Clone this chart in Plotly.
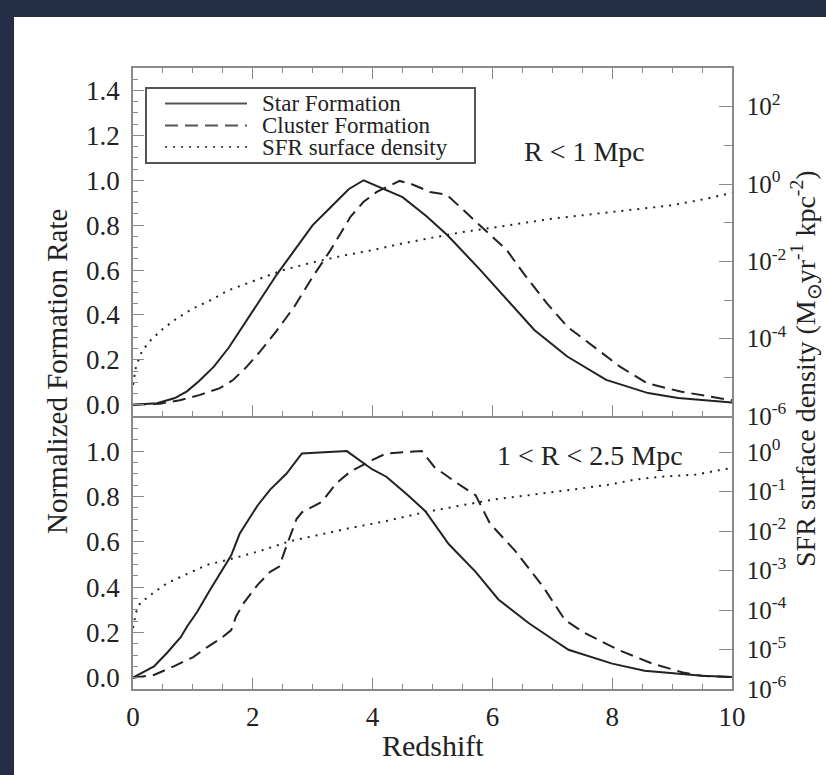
import plotly.graph_objects as go

# ---- data: R < 1 Mpc (upper panel) ----
z_top_sf = [0, 0.4, 0.7, 0.9, 1.1, 1.35, 1.6, 1.9, 2.1, 2.4, 2.7, 3.0, 3.3, 3.6, 3.85,
            4.1, 4.5, 4.9, 5.25, 5.8, 6.25, 6.7, 7.25, 7.9, 8.6, 9.1, 10.0]
sf_top = [0.0, 0.007, 0.03, 0.06, 0.105, 0.17, 0.255, 0.375, 0.46, 0.58, 0.69, 0.80, 0.88, 0.96, 1.0,
          0.97, 0.925, 0.84, 0.755, 0.60, 0.467, 0.333, 0.215, 0.111, 0.052, 0.03, 0.01]

z_top_cf = [0, 0.45, 0.78, 1.12, 1.45, 1.67, 1.9, 2.12, 2.4, 2.7, 3.0, 3.3, 3.63, 3.85, 4.07,
            4.45, 4.63, 4.96, 5.24, 5.52, 5.85, 6.24, 6.52, 6.91, 7.25, 7.69, 8.13, 8.58, 9.14, 10.0]
cf_top = [0.0, 0.005, 0.02, 0.044, 0.074, 0.11, 0.17, 0.237, 0.33, 0.44, 0.57, 0.69, 0.837, 0.904, 0.948,
          0.997, 0.985, 0.948, 0.935, 0.867, 0.785, 0.689, 0.585, 0.452, 0.348, 0.259, 0.17, 0.096, 0.059, 0.02]

z_top_sd = [0, 0.05, 0.15, 0.3, 0.5, 0.75, 1.0, 1.3, 1.6, 2.0, 2.5, 3.0, 3.5, 4.0, 4.5,
            5.0, 5.5, 6.0, 6.5, 7.0, 7.5, 8.0, 8.5, 9.0, 9.5, 10.0]
sd_top = [6.4e-6, 1.9e-5, 4.8e-5, 9.3e-5, 1.8e-4, 3.5e-4, 6.0e-4, 1.0e-3, 1.8e-3, 3.0e-3, 5.9e-3,
          9.4e-3, 1.4e-2, 1.95e-2, 2.9e-2, 4.1e-2, 5.7e-2, 7.4e-2, 9.7e-2, 0.127, 0.155, 0.189,
          0.231, 0.282, 0.395, 0.59]

# ---- data: 1 < R < 2.5 Mpc (lower panel) ----
z_bot_sf = [0, 0.35, 0.57, 0.8, 0.9, 1.07, 1.27, 1.5, 1.64, 1.78, 2.08, 2.29, 2.56, 2.82, 3.57,
            3.99, 4.23, 4.59, 4.88, 5.27, 5.72, 6.1, 6.61, 7.03, 7.27, 8.0, 8.54, 9.5, 10.0]
sf_bot = [0.0, 0.05, 0.11, 0.18, 0.225, 0.29, 0.38, 0.48, 0.54, 0.635, 0.76, 0.83, 0.90, 0.99, 1.0,
          0.92, 0.887, 0.805, 0.735, 0.59, 0.467, 0.345, 0.24, 0.165, 0.123, 0.062, 0.031, 0.008, 0.003]

z_bot_cf = [0, 0.35, 0.68, 1.0, 1.24, 1.45, 1.64, 1.72, 1.85, 2.08, 2.29, 2.44, 2.56, 2.73, 2.82,
            3.15, 3.39, 3.63, 3.99, 4.23, 4.82, 5.03, 5.42, 5.72, 5.96, 6.38, 6.85, 7.21, 7.52,
            8.1, 8.67, 9.18, 9.5, 10.0]
cf_bot = [0.0, 0.012, 0.05, 0.09, 0.135, 0.17, 0.21, 0.27, 0.33, 0.41, 0.467, 0.49, 0.58, 0.70, 0.73,
          0.776, 0.857, 0.91, 0.96, 0.99, 1.0, 0.93, 0.857, 0.805, 0.68, 0.56, 0.40, 0.255, 0.20,
          0.123, 0.062, 0.023, 0.008, 0.003]

z_bot_sd = [0, 0.05, 0.12, 0.35, 0.57, 0.9, 1.24, 1.6, 2.14, 2.61, 3.15, 3.63, 4.23, 4.82, 5.42,
            6.02, 6.61, 7.21, 7.93, 8.4, 8.76, 9.4, 10.0]
sd_bot = [3.5e-5, 8.7e-5, 1.5e-4, 2.8e-4, 4.8e-4, 8.1e-4, 1.4e-3, 1.9e-3, 3.2e-3, 5.5e-3, 8.3e-3,
          1.2e-2, 1.8e-2, 2.9e-2, 4.3e-2, 6.3e-2, 8.1e-2, 0.107, 0.148, 0.204, 0.234, 0.27, 0.40]

series_names = ["Star Formation", "Cluster Formation", "SFR surface density"]
panel_labels = ["R &lt; 1 Mpc", "1 &lt; R &lt; 2.5 Mpc"]
left_ticks_top = [0.0, 0.2, 0.4, 0.6, 0.8, 1.0, 1.2, 1.4]
left_ticks_bot = [0.0, 0.2, 0.4, 0.6, 0.8, 1.0]
right_major_top = [-6, -4, -2, 0, 2]
right_minor_top = [-5, -3, -1, 1, 3]
right_major_bot = [-6, -5, -4, -3, -2, -1, 0]

# ---- figure geometry (pixels) ----
W, H = 826, 775
L, R, T, B = 133, 94, 68, 86
PW, PH = W - L - R, H - T - B
SPLIT = (689 - 416) / PH  # lower panel fraction


def px(xpix):
    return (xpix - L) / PW


def py(ypix):
    return (H - B - ypix) / PH


INK = "#222222"
AX = "#8a8a8a"
BACKDROP = "#232d45"
FONT = "Liberation Serif, Times New Roman, serif"
DASH = "13px,7px"
DOT = "2px,6px"

fig = go.Figure()


def add_panel(xa, ya_left, ya_right, zs, sf, zc, cf, zd, sd):
    fig.add_trace(go.Scatter(x=zs, y=sf, mode="lines", name=series_names[0], xaxis=xa, yaxis=ya_left,
                             line=dict(color=INK, width=2), showlegend=False))
    fig.add_trace(go.Scatter(x=zc, y=cf, mode="lines", name=series_names[1], xaxis=xa, yaxis=ya_left,
                             line=dict(color=INK, width=2, dash=DASH), showlegend=False))
    fig.add_trace(go.Scatter(x=zd, y=sd, mode="lines", name=series_names[2], xaxis=xa, yaxis=ya_right,
                             line=dict(color=INK, width=2, dash=DOT), showlegend=False))


add_panel("x", "y", "y2", z_bot_sf, sf_bot, z_bot_cf, cf_bot, z_bot_sd, sd_bot)
add_panel("x2", "y3", "y4", z_top_sf, sf_top, z_top_cf, cf_top, z_top_sd, sd_top)

tickfont = dict(family=FONT, size=27, color=INK)
rtickfont = dict(family=FONT, size=25, color=INK)

minor_x = dict(dtick=0.5, tick0=0, ticks="inside", ticklen=5, tickcolor=AX, tickwidth=1.2,
               showgrid=False)
common_x = dict(range=[0, 10], linecolor=AX, linewidth=1.5, ticks="inside",
                tickcolor=AX, tickwidth=1.2, ticklen=11, tickmode="array",
                tickvals=[0, 2, 4, 6, 8, 10], showgrid=False, zeroline=False, minor=minor_x)

common_left = dict(showline=True, linecolor=AX, linewidth=1.5, ticks="inside", tickcolor=AX,
                   tickwidth=1.2, ticklen=11, showgrid=False, zeroline=False, tickfont=tickfont,
                   tickformat=".1f", tickmode="array", ticklabelstandoff=6,
                   minor=dict(dtick=0.05, tick0=0, ticks="inside", ticklen=5, tickcolor=AX,
                              tickwidth=1.2, showgrid=False))

common_right = dict(type="log", side="right", showline=True, linecolor=AX, linewidth=1.5,
                    ticks="inside", tickcolor=AX, tickwidth=1.2, ticklen=13, showgrid=False,
                    zeroline=False, tickfont=rtickfont, tickmode="array", ticklabelstandoff=8)


def decade_labels(exps):
    return ["10<sup>%d</sup>" % e for e in exps]


fig.update_layout(
    width=W, height=H,
    margin=dict(l=L, r=R, t=T, b=B, pad=0),
    paper_bgcolor="white",
    plot_bgcolor="white",
    font=dict(family=FONT, color=INK),
    xaxis=dict(**common_x, anchor="y", showline=True, mirror=False, tickfont=tickfont,
               ticklabelstandoff=3),
    xaxis2=dict(**common_x, anchor="y3", matches="x", showline=True, mirror="ticks",
                showticklabels=False),
    yaxis=dict(**common_left, domain=[0, SPLIT], range=[-0.05, 1.155], anchor="x",
               tickvals=left_ticks_bot),
    yaxis2=dict(**common_right, overlaying="y", anchor="x", range=[-6, 0.915],
                tickvals=[10.0 ** e for e in right_major_bot], ticktext=decade_labels(right_major_bot)),
    yaxis3=dict(**common_left, domain=[SPLIT, 1], range=[-0.05, 1.5], anchor="x2",
                tickvals=left_ticks_top),
    yaxis4=dict(**common_right, overlaying="y3", anchor="x2", range=[-6, 3],
                tickvals=[10.0 ** e for e in right_major_top], ticktext=decade_labels(right_major_top),
                minor=dict(tickmode="array", tickvals=[10.0 ** e for e in right_minor_top],
                           ticks="inside", ticklen=8, tickcolor=AX, tickwidth=1.2, showgrid=False)),
)

shapes = []
# dark slide backdrop along the top and left edges
shapes.append(dict(type="rect", xref="paper", yref="paper", x0=px(0), x1=px(W), y0=py(17),
                   y1=py(0), fillcolor=BACKDROP, line=dict(width=0), layer="below"))
shapes.append(dict(type="rect", xref="paper", yref="paper", x0=px(0), x1=px(14), y0=py(H),
                   y1=py(0), fillcolor=BACKDROP, line=dict(width=0), layer="below"))

# legend box with line samples
shapes.append(dict(type="rect", xref="paper", yref="paper", x0=px(146), x1=px(475), y0=py(88),
                   y1=py(163), fillcolor="rgba(0,0,0,0)", line=dict(color="#555555", width=2)))
rows = [103.5, 125.5, 147]
styles = [None, DASH, DOT]
for yr, st in zip(rows, styles):
    ln = dict(color="#555555", width=2)
    if st:
        ln["dash"] = st
    shapes.append(dict(type="line", xref="paper", yref="paper", x0=px(165), x1=px(247),
                       y0=py(yr), y1=py(yr), line=ln))

annotations = []
for yr, name in zip(rows, series_names):
    annotations.append(dict(text=name, xref="paper", yref="paper", x=px(260), y=py(yr),
                            xanchor="left", yanchor="middle", showarrow=False,
                            font=dict(family=FONT, size=23, color=INK)))

annotations.append(dict(text=panel_labels[0], xref="x2", yref="y3", x=6.5, y=1.13,
                        xanchor="left", yanchor="middle", showarrow=False,
                        font=dict(family=FONT, size=28, color=INK)))
annotations.append(dict(text=panel_labels[1], xref="x", yref="y", x=6.05, y=0.98,
                        xanchor="left", yanchor="middle", showarrow=False,
                        font=dict(family=FONT, size=28, color=INK)))

annotations.append(dict(text="Normalized Formation Rate", xref="paper", yref="paper",
                        x=px(57), y=py(372), textangle=-90, xanchor="center", yanchor="middle",
                        showarrow=False, font=dict(family=FONT, size=29, color=INK)))
annotations.append(dict(text="SFR surface density (M<sub>⊙</sub>yr<sup>-1</sup> kpc<sup>-2</sup>)",
                        xref="paper", yref="paper", x=px(805), y=py(369), textangle=-90,
                        xanchor="center", yanchor="middle", showarrow=False,
                        font=dict(family=FONT, size=28, color=INK)))
annotations.append(dict(text="Redshift", xref="paper", yref="paper", x=0.5, y=py(745),
                        xanchor="center", yanchor="middle", showarrow=False,
                        font=dict(family=FONT, size=30, color=INK)))

fig.update_layout(shapes=shapes, annotations=annotations)

fig.write_html("out.html")
